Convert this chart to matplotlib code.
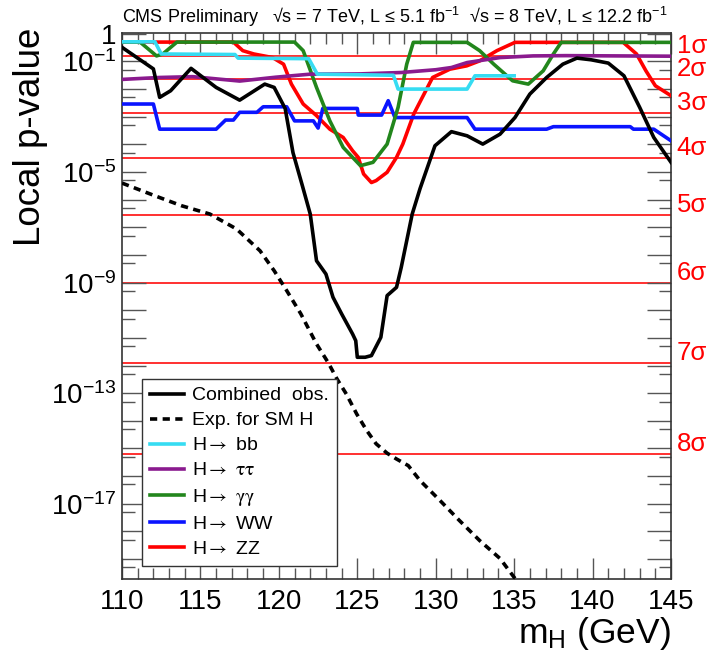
import numpy as np
import matplotlib
matplotlib.use("Agg")
import matplotlib.pyplot as plt
from matplotlib.ticker import MultipleLocator, FixedLocator, FuncFormatter
from matplotlib.transforms import offset_copy

plt.rcParams['font.family'] = ['Liberation Sans', 'DejaVu Sans']
plt.rcParams['mathtext.fontset'] = 'custom'
plt.rcParams['mathtext.rm'] = 'Liberation Sans'
plt.rcParams['mathtext.it'] = 'Liberation Sans:italic'
plt.rcParams['mathtext.bf'] = 'Liberation Sans:bold'

# Higgs mass scan (GeV) and log10 of local p-value for each channel
obs_m = [110.0, 111.0, 112.0, 112.4, 113.1, 114.4, 116.0, 117.5, 119.1, 119.7, 120.4, 120.9,
         121.5, 122.0, 122.4, 123.0, 123.45, 124.0, 124.7, 124.9, 125.0, 125.5, 125.9, 126.5,
         126.9, 127.5, 127.8, 128.5, 129.0, 129.95, 131.0, 132.0, 133.0, 134.1, 135.05, 136.0,
         137.07, 138.1, 139.0, 139.9, 141.0, 142.0, 143.0, 143.9, 145.0]
obs_logp = [-0.49, -0.88, -1.27, -2.30, -2.06, -1.25, -1.94, -2.40, -1.82, -1.94, -2.70, -4.30,
            -5.50, -6.52, -8.21, -8.69, -9.53, -10.13, -10.86, -11.10, -11.70, -11.70, -11.64, -10.98,
            -9.47, -9.17, -8.45, -6.52, -5.60, -4.05, -3.54, -3.69, -3.99, -3.63, -3.03, -2.18,
            -1.58, -1.10, -0.88, -0.94, -1.06, -1.52, -2.66, -3.75, -4.65]

exp_m = [110.0, 112.1, 113.8, 115.6, 117.3, 118.8, 119.7, 120.5, 121.4, 122.4, 123.15, 123.7,
         124.3, 124.96, 125.6, 126.2, 126.9, 127.5, 128.25, 129.0, 130.27, 131.5, 132.8, 134.1,
         135.05, 135.3]
exp_logp = [-5.40, -5.86, -6.22, -6.52, -7.06, -7.85, -8.57, -9.29, -10.13, -11.22, -11.90, -12.48,
            -13.03, -13.75, -14.35, -14.83, -15.17, -15.38, -15.62, -16.16, -16.88, -17.60, -18.33, -18.98,
            -19.70, -19.90]

bb_m = [110.0, 112.1, 112.5, 117.2, 117.4, 121.9, 122.45, 127.3, 127.6, 132.0, 132.5, 135.0]
bb_logp = [-0.29, -0.29, -0.73, -0.75, -0.88, -0.90, -1.46, -1.50, -2.00, -2.00, -1.52, -1.52]

tt_m = [110.0, 112.4, 114.5, 116.0, 117.5, 119.8, 122.0, 125.2, 127.8, 130.0, 131.0, 132.0,
        134.1, 136.2, 138.3, 145.0]
tt_logp = [-1.65, -1.58, -1.55, -1.63, -1.71, -1.57, -1.46, -1.45, -1.40, -1.30, -1.22, -1.04,
           -0.86, -0.80, -0.79, -0.81]

gg_m = [110.0, 111.15, 112.2, 112.6, 113.5, 121.0, 121.55, 122.4, 123.25, 124.1, 125.2, 126.0,
        126.9, 127.6, 128.15, 128.57, 132.0, 132.8, 133.7, 134.9, 135.9, 136.85, 137.5, 138.0, 145.0]
gg_logp = [-0.30, -0.30, -0.80, -0.73, -0.30, -0.30, -0.61, -1.94, -3.15, -4.11, -4.77, -4.65,
           -3.99, -2.66, -1.10, -0.31, -0.31, -0.61, -1.10, -1.70, -1.82, -1.34, -0.73, -0.31, -0.31]

ww_m = [110.0, 112.0, 112.4, 116.0, 116.6, 117.1, 117.5, 118.6, 119.0, 120.5, 121.0, 122.2,
        122.5, 122.8, 125.0, 125.06, 126.55, 126.97, 127.4, 132.0, 132.5, 137.07, 137.5, 142.4,
        142.6, 143.9, 145.0]
ww_logp = [-2.54, -2.54, -3.45, -3.45, -3.12, -3.12, -2.84, -2.84, -2.64, -2.64, -3.15, -3.15,
           -3.41, -2.70, -2.70, -2.94, -2.94, -2.42, -3.03, -3.03, -3.45, -3.45, -3.36, -3.36,
           -3.45, -3.45, -3.87]

zz_m = [110.0, 117.1, 117.7, 118.4, 119.6, 120.3, 120.8, 121.55, 122.4, 123.25, 124.1, 124.7,
        125.06, 125.4, 125.9, 126.2, 126.9, 127.5, 127.9, 128.6, 129.8, 130.9, 131.97, 132.8,
        133.9, 135.05, 141.95, 142.8, 143.4, 144.0, 145.0]
zz_logp = [-0.30, -0.30, -0.61, -0.73, -0.86, -1.10, -1.82, -2.54, -2.96, -3.45, -3.75, -4.23,
           -4.47, -5.07, -5.38, -5.31, -5.01, -4.47, -3.99, -2.90, -1.58, -1.28, -1.16, -0.98,
           -0.61, -0.31, -0.31, -0.73, -1.34, -1.88, -2.24]

# one-sided tail probabilities for 1..8 sigma
sigma_names = ['1σ', '2σ', '3σ', '4σ', '5σ', '6σ', '7σ', '8σ']
sigma_p = [1.587e-1, 2.275e-2, 1.350e-3, 3.167e-5, 2.867e-7, 9.866e-10, 1.280e-12, 6.221e-16]

fig = plt.figure(figsize=(7.16, 6.54), dpi=100)
ax = fig.add_axes([0.1704, 0.1147, 0.7668, 0.8349])
ax.set_yscale('log')
ax.set_xlim(110, 145)
ax.set_ylim(10 ** -19.72, 10 ** 0.03)

for p in sigma_p:
    ax.axhline(p, color='#ff2020', lw=1.3, zorder=1)

lw = 2.6
ax.plot(zz_m, np.power(10.0, zz_logp), color='#ff0000', lw=lw, zorder=3, label='zz')
ax.plot(ww_m, np.power(10.0, ww_logp), color='#0a14ff', lw=lw, zorder=3, label='ww')
ax.plot(gg_m, np.power(10.0, gg_logp), color='#22861c', lw=lw, zorder=4, label='gg')
ax.plot(tt_m, np.power(10.0, tt_logp), color='#8a1a8e', lw=lw, zorder=4, label='tt')
ax.plot(bb_m, np.power(10.0, bb_logp), color='#36dcf2', lw=lw, zorder=5, label='bb')
ax.plot(obs_m, np.power(10.0, obs_logp), color='black', lw=lw, zorder=6, label='obs')
ax.plot(exp_m, np.power(10.0, exp_logp), color='black', lw=lw, ls=(0, (2.0, 1.5)), zorder=6,
        label='exp')

# sigma labels outside the right edge
lab_tr = offset_copy(ax.get_yaxis_transform(), fig=fig, x=0, y=10, units='dots')
for name, p in zip(sigma_names, sigma_p):
    ax.text(1.01, p, name, transform=lab_tr, color='#ff0000', fontsize=18.5,
            ha='left', va='center', clip_on=False)

# axis ticks
ax.xaxis.set_major_locator(MultipleLocator(5))
ax.xaxis.set_minor_locator(MultipleLocator(1))
ax.yaxis.set_major_locator(FixedLocator([10.0 ** -k for k in range(0, 20)]))
ax.yaxis.set_minor_locator(FixedLocator([5 * 10.0 ** -k for k in range(1, 21)]))
shown = {0: '1', 1: '$10^{-1}$', 5: '$10^{-5}$', 9: '$10^{-9}$', 13: '$10^{-13}$', 17: '$10^{-17}$'}
ax.yaxis.set_major_formatter(FuncFormatter(
    lambda v, pos: shown.get(int(round(-np.log10(v))), '')))
ax.yaxis.set_minor_formatter(FuncFormatter(lambda v, pos: ''))
ax.tick_params(which='both', direction='in', top=True, right=True, colors='#555555',
               labelcolor='black', labelsize=20, width=1.0)
ax.tick_params(axis='x', which='major', length=15, pad=7)
ax.tick_params(axis='x', which='minor', length=8)
ax.tick_params(axis='y', which='major', length=17, pad=4)
ax.tick_params(axis='y', which='minor', length=9)
for s in ax.spines.values():
    s.set_color('#333333')
    s.set_linewidth(1.2)

# legend
handles, keys = ax.get_legend_handles_labels()
hmap = dict(zip(keys, handles))
order = ['obs', 'exp', 'bb', 'tt', 'gg', 'ww', 'zz']
names = ['Combined  obs.', 'Exp. for SM H', 'H$\\rightarrow$ bb',
         'H$\\rightarrow$ $\\mathrm{\\tau\\tau}$', 'H$\\rightarrow$ $\\mathrm{\\gamma\\gamma}$',
         'H$\\rightarrow$ WW', 'H$\\rightarrow$ ZZ']
leg = ax.legend([hmap[k] for k in order], names, loc='lower left',
                bbox_to_anchor=(0.037, 0.024), borderaxespad=0, fontsize=14,
                handlelength=1.7, handletextpad=0.43, labelspacing=0.38, borderpad=0.42,
                fancybox=False, framealpha=1, edgecolor='#333333')
leg.get_frame().set_linewidth(1.0)
leg.set_zorder(10)
for t in leg.get_texts():
    t.set_math_fontfamily('stix')

fig.text(122 / 716, 1 - 17 / 654,
         'CMS Preliminary   √s = 7 TeV, L ≤ 5.1 fb$^{-1}$  √s = 8 TeV, L ≤ 12.2 fb$^{-1}$',
         fontsize=13, ha='left', va='center')
fig.text(31 / 716, 1 - 28 / 654, 'Local p-value', rotation=90, fontsize=26.5,
         ha='center', va='top')
fig.text(671 / 716, 1 - 634 / 654, 'm$_{\\mathrm{H}}$ (GeV)', fontsize=25.5,
         ha='right', va='center')

fig.savefig('out.png', dpi=100)
